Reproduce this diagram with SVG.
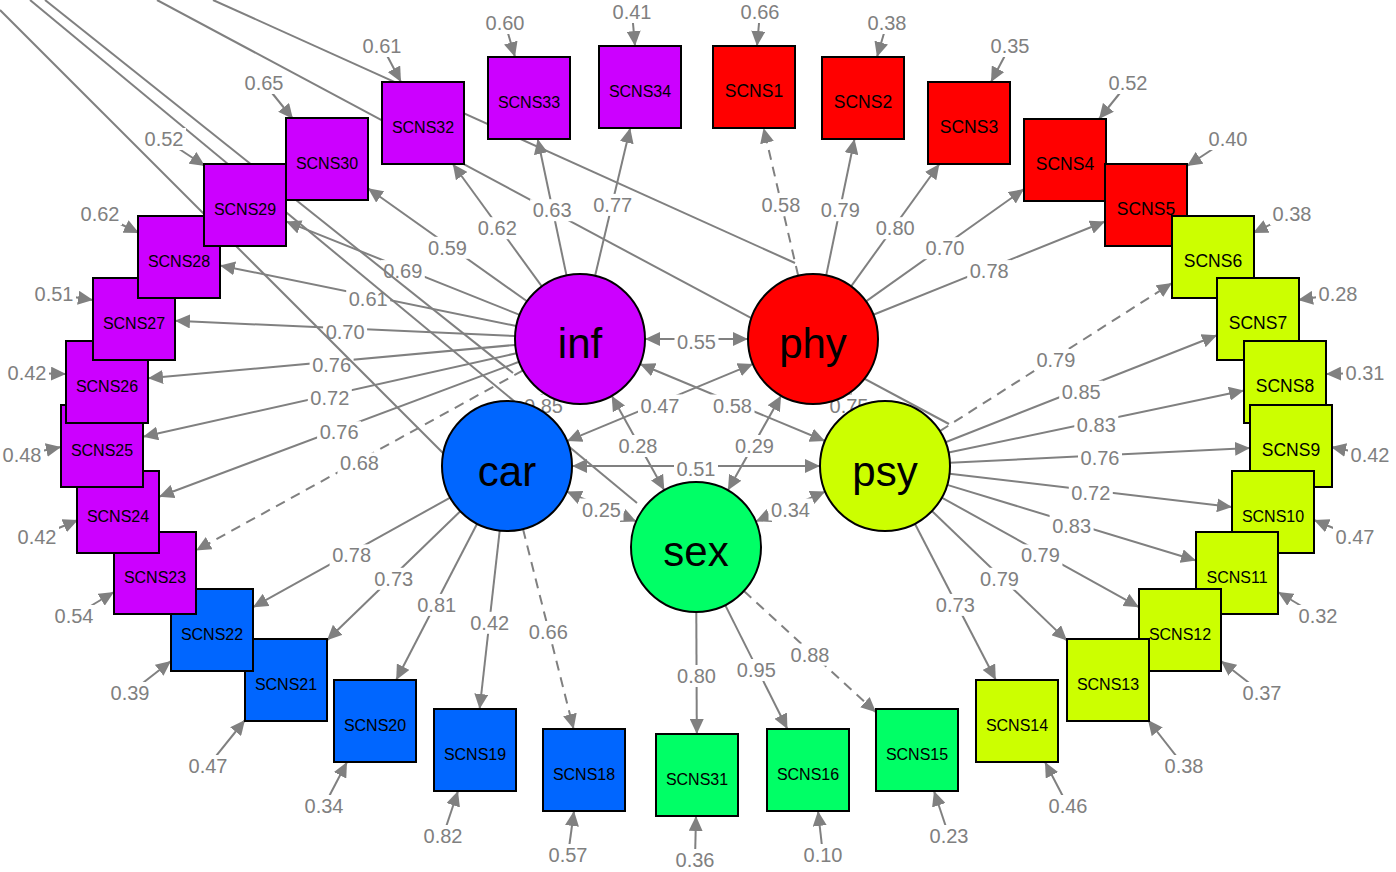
<svg xmlns="http://www.w3.org/2000/svg" width="1396" height="872" viewBox="0 0 1396 872">
<style>
.ln{stroke:#808080;stroke-width:2;fill:none}
.ld{stroke-dasharray:10 7}
.lb{fill:#ffffff}
.lt{font-family:"Liberation Sans",Arial,sans-serif;font-size:20px;fill:#808080;text-anchor:middle}
.bx{stroke:#000;stroke-width:2}
.bt{font-family:"Liberation Sans",Arial,sans-serif;font-size:16px;fill:#000;text-anchor:middle}
.b5{font-size:17.5px}
.lv{stroke:#000;stroke-width:2}
.lvt{font-family:"Liberation Sans",Arial,sans-serif;font-size:42px;fill:#000;text-anchor:middle}
.cI{fill:#CC00FF}.cP{fill:#FF0000}.cY{fill:#CCFF00}.cS{fill:#00FF66}.cC{fill:#0066FF}
</style>
<defs>
<marker id="ah" markerWidth="15" markerHeight="14" refX="15" refY="7" orient="auto-start-reverse" markerUnits="userSpaceOnUse"><path d="M0,0 L15,7 L0,14 z" fill="#808080"/></marker>
</defs>
<rect x="0" y="0" width="1396" height="872" fill="#ffffff"/>
<g id="connectors">
<line class="ln" x1="157" y1="0" x2="949" y2="424"/>
<line class="ln" x1="213" y1="0" x2="795" y2="263"/>
<g marker-end="url(#ah)">
<line class="ln" x1="595.1" y1="275.7" x2="630.2" y2="128"/>
<line class="ln" x1="566.5" y1="275.4" x2="537.7" y2="139"/>
<line class="ln" x1="541.8" y1="286.4" x2="452.8" y2="164"/>
<line class="ln" x1="527" y1="301.3" x2="368" y2="188.2"/>
<line class="ln" x1="519.7" y1="314.9" x2="286" y2="221.4"/>
<line class="ln" x1="516.3" y1="326" x2="220" y2="265.4"/>
<line class="ln" x1="515.1" y1="336.1" x2="175" y2="320.8"/>
<line class="ln" x1="515.2" y1="344.9" x2="148" y2="378.3"/>
<line class="ln" x1="516.6" y1="353.2" x2="143" y2="436.8"/>
<line class="ln" x1="519.1" y1="361.8" x2="159" y2="496.7"/>
<line class="ln ld" x1="523.1" y1="370.4" x2="196" y2="550.4"/>
<line class="ln ld" x1="798.2" y1="275.7" x2="763.6" y2="128"/>
<line class="ln" x1="826.2" y1="275.4" x2="854.5" y2="139"/>
<line class="ln" x1="851.1" y1="286.3" x2="939.4" y2="164"/>
<line class="ln" x1="866" y1="301.4" x2="1024" y2="189.1"/>
<line class="ln" x1="873.3" y1="314.7" x2="1105" y2="221.5"/>
<line class="ln ld" x1="939.8" y1="431.1" x2="1172" y2="283.1"/>
<line class="ln" x1="945.5" y1="442.2" x2="1217" y2="335.2"/>
<line class="ln" x1="948.6" y1="452.6" x2="1244" y2="390.6"/>
<line class="ln" x1="949.9" y1="462.8" x2="1250" y2="448"/>
<line class="ln" x1="949.6" y1="473.7" x2="1232" y2="507.1"/>
<line class="ln" x1="947.2" y1="484.9" x2="1196" y2="560.5"/>
<line class="ln" x1="941.8" y1="497.6" x2="1139" y2="607.2"/>
<line class="ln" x1="931.9" y1="511" x2="1067" y2="640.6"/>
<line class="ln" x1="914.9" y1="523.7" x2="995.8" y2="680"/>
<line class="ln" x1="696.3" y1="612" x2="696.8" y2="734"/>
<line class="ln" x1="725.2" y1="605.1" x2="787.4" y2="729"/>
<line class="ln ld" x1="743.9" y1="591" x2="876" y2="712.3"/>
<line class="ln" x1="450.2" y1="497.6" x2="253" y2="607.2"/>
<line class="ln" x1="460.3" y1="511.2" x2="327" y2="640.3"/>
<line class="ln" x1="477.1" y1="523.7" x2="396.2" y2="680"/>
<line class="ln" x1="499.7" y1="530.6" x2="479.6" y2="709"/>
<line class="ln ld" x1="523" y1="529" x2="573.6" y2="729"/>
</g>
<g>
<rect class="lb" x="590.7" y="193.9" width="44" height="22"/><text class="lt" x="612.7" y="211.9">0.77</text>
<rect class="lb" x="530.1" y="199.2" width="44" height="22"/><text class="lt" x="552.1" y="217.2">0.63</text>
<rect class="lb" x="475.3" y="217.2" width="44" height="22"/><text class="lt" x="497.3" y="235.2">0.62</text>
<rect class="lb" x="425.5" y="236.8" width="44" height="22"/><text class="lt" x="447.5" y="254.8">0.59</text>
<rect class="lb" x="380.8" y="260.1" width="44" height="22"/><text class="lt" x="402.8" y="278.1">0.69</text>
<rect class="lb" x="346.2" y="287.7" width="44" height="22"/><text class="lt" x="368.2" y="305.7">0.61</text>
<rect class="lb" x="323.1" y="320.5" width="44" height="22"/><text class="lt" x="345.1" y="338.5">0.70</text>
<rect class="lb" x="309.6" y="353.6" width="44" height="22"/><text class="lt" x="331.6" y="371.6">0.76</text>
<rect class="lb" x="307.8" y="387" width="44" height="22"/><text class="lt" x="329.8" y="405">0.72</text>
<rect class="lb" x="317.1" y="421.2" width="44" height="22"/><text class="lt" x="339.1" y="439.2">0.76</text>
<rect class="lb" x="337.5" y="452.4" width="44" height="22"/><text class="lt" x="359.5" y="470.4">0.68</text>
<rect class="lb" x="758.9" y="193.9" width="44" height="22"/><text class="lt" x="780.9" y="211.9">0.58</text>
<rect class="lb" x="818.3" y="199.2" width="44" height="22"/><text class="lt" x="840.3" y="217.2">0.79</text>
<rect class="lb" x="873.2" y="217.2" width="44" height="22"/><text class="lt" x="895.2" y="235.2">0.80</text>
<rect class="lb" x="923" y="237.2" width="44" height="22"/><text class="lt" x="945" y="255.2">0.70</text>
<rect class="lb" x="967.2" y="260.1" width="44" height="22"/><text class="lt" x="989.2" y="278.1">0.78</text>
<rect class="lb" x="1033.9" y="349.1" width="44" height="22"/><text class="lt" x="1055.9" y="367.1">0.79</text>
<rect class="lb" x="1059.2" y="380.7" width="44" height="22"/><text class="lt" x="1081.2" y="398.7">0.85</text>
<rect class="lb" x="1074.3" y="413.6" width="44" height="22"/><text class="lt" x="1096.3" y="431.6">0.83</text>
<rect class="lb" x="1078" y="447.4" width="44" height="22"/><text class="lt" x="1100" y="465.4">0.76</text>
<rect class="lb" x="1068.8" y="482.4" width="44" height="22"/><text class="lt" x="1090.8" y="500.4">0.72</text>
<rect class="lb" x="1049.6" y="514.7" width="44" height="22"/><text class="lt" x="1071.6" y="532.7">0.83</text>
<rect class="lb" x="1018.4" y="544.4" width="44" height="22"/><text class="lt" x="1040.4" y="562.4">0.79</text>
<rect class="lb" x="977.5" y="567.8" width="44" height="22"/><text class="lt" x="999.5" y="585.8">0.79</text>
<rect class="lb" x="933.3" y="593.9" width="44" height="22"/><text class="lt" x="955.3" y="611.9">0.73</text>
<rect class="lb" x="674.5" y="665" width="44" height="22"/><text class="lt" x="696.5" y="683">0.80</text>
<rect class="lb" x="734.3" y="659" width="44" height="22"/><text class="lt" x="756.3" y="677">0.95</text>
<rect class="lb" x="788" y="643.7" width="44" height="22"/><text class="lt" x="810" y="661.7">0.88</text>
<rect class="lb" x="329.6" y="544.4" width="44" height="22"/><text class="lt" x="351.6" y="562.4">0.78</text>
<rect class="lb" x="371.7" y="567.8" width="44" height="22"/><text class="lt" x="393.7" y="585.8">0.73</text>
<rect class="lb" x="414.7" y="593.9" width="44" height="22"/><text class="lt" x="436.7" y="611.9">0.81</text>
<rect class="lb" x="467.7" y="611.8" width="44" height="22"/><text class="lt" x="489.7" y="629.8">0.42</text>
<rect class="lb" x="526.3" y="621" width="44" height="22"/><text class="lt" x="548.3" y="639">0.66</text>
</g>
<line class="ln" x1="0" y1="10" x2="443" y2="453"/>
<line class="ln" x1="30" y1="0" x2="637" y2="503"/>
<line class="ln" x1="45" y1="0" x2="513" y2="373"/>
<g marker-start="url(#ah)" marker-end="url(#ah)">
<line class="ln" x1="645" y1="339" x2="748" y2="339"/>
<line class="ln" x1="572" y1="466" x2="820" y2="466"/>
<line class="ln" x1="640" y1="364" x2="825" y2="441"/>
<line class="ln" x1="753" y1="363.9" x2="567" y2="441.1"/>
<line class="ln" x1="611.7" y1="395.8" x2="664.3" y2="490.2"/>
<line class="ln" x1="781.1" y1="395.7" x2="727.9" y2="490.3"/>
<line class="ln" x1="566.7" y1="491.6" x2="636.3" y2="521.4"/>
<line class="ln" x1="825.3" y1="491.6" x2="755.7" y2="521.4"/>
<line class="ln" x1="547.6" y1="395.3" x2="539.4" y2="409.7"/>
<line class="ln" x1="845.1" y1="395.5" x2="852.9" y2="409.5"/>
</g>
<g>
<rect class="lb" x="674.5" y="331" width="44" height="22"/><text class="lt" x="696.5" y="349">0.55</text>
<rect class="lb" x="674" y="458" width="44" height="22"/><text class="lt" x="696" y="476">0.51</text>
<rect class="lb" x="710.5" y="394.5" width="44" height="22"/><text class="lt" x="732.5" y="412.5">0.58</text>
<rect class="lb" x="638" y="394.5" width="44" height="22"/><text class="lt" x="660" y="412.5">0.47</text>
<rect class="lb" x="616" y="435" width="44" height="22"/><text class="lt" x="638" y="453">0.28</text>
<rect class="lb" x="732.5" y="435" width="44" height="22"/><text class="lt" x="754.5" y="453">0.29</text>
<rect class="lb" x="579.5" y="498.5" width="44" height="22"/><text class="lt" x="601.5" y="516.5">0.25</text>
<rect class="lb" x="768.5" y="498.5" width="44" height="22"/><text class="lt" x="790.5" y="516.5">0.34</text>
<rect class="lb" x="521.5" y="394.5" width="44" height="22"/><text class="lt" x="543.5" y="412.5">0.85</text>
<rect class="lb" x="827" y="394.5" width="44" height="22"/><text class="lt" x="849" y="412.5">0.75</text>
</g>
<g marker-end="url(#ah)">
<line class="ln" x1="760" y1="12" x2="757" y2="46"/>
<line class="ln" x1="887" y1="23" x2="877" y2="57"/>
<line class="ln" x1="1010" y1="46" x2="991" y2="82"/>
<line class="ln" x1="1128" y1="83" x2="1099" y2="119"/>
<line class="ln" x1="1228" y1="139" x2="1187" y2="166"/>
<line class="ln" x1="1292" y1="214" x2="1253" y2="233"/>
<line class="ln" x1="1338" y1="294" x2="1298" y2="300"/>
<line class="ln" x1="1365" y1="373" x2="1326" y2="374"/>
<line class="ln" x1="1370" y1="455" x2="1331" y2="447"/>
<line class="ln" x1="1355" y1="537" x2="1314" y2="520"/>
<line class="ln" x1="1318" y1="616" x2="1278" y2="592"/>
<line class="ln" x1="1262" y1="693" x2="1221" y2="661"/>
<line class="ln" x1="1184" y1="766" x2="1148" y2="720"/>
<line class="ln" x1="1068" y1="806" x2="1045" y2="762"/>
<line class="ln" x1="949" y1="836" x2="934" y2="791"/>
<line class="ln" x1="823" y1="855" x2="818" y2="811"/>
<line class="ln" x1="695" y1="860" x2="696" y2="816"/>
<line class="ln" x1="568" y1="855" x2="574" y2="811"/>
<line class="ln" x1="443" y1="836" x2="458" y2="791"/>
<line class="ln" x1="324" y1="806" x2="347" y2="762"/>
<line class="ln" x1="208" y1="766" x2="245" y2="720"/>
<line class="ln" x1="130" y1="693" x2="171" y2="661"/>
<line class="ln" x1="74" y1="616" x2="114" y2="592"/>
<line class="ln" x1="37" y1="537" x2="78" y2="520"/>
<line class="ln" x1="22" y1="455" x2="61" y2="447"/>
<line class="ln" x1="27" y1="373" x2="66" y2="374"/>
<line class="ln" x1="54" y1="294" x2="93" y2="300"/>
<line class="ln" x1="100" y1="214" x2="139" y2="233"/>
<line class="ln" x1="164" y1="139" x2="205" y2="166"/>
<line class="ln" x1="264" y1="83" x2="293" y2="119"/>
<line class="ln" x1="382" y1="46" x2="401" y2="82"/>
<line class="ln" x1="505" y1="23" x2="515" y2="57"/>
<line class="ln" x1="632" y1="12" x2="635" y2="46"/>
</g>
<g>
<rect class="lb" x="738" y="1" width="44" height="22"/><text class="lt" x="760" y="19">0.66</text>
<rect class="lb" x="865" y="12" width="44" height="22"/><text class="lt" x="887" y="30">0.38</text>
<rect class="lb" x="988" y="35" width="44" height="22"/><text class="lt" x="1010" y="53">0.35</text>
<rect class="lb" x="1106" y="72" width="44" height="22"/><text class="lt" x="1128" y="90">0.52</text>
<rect class="lb" x="1206" y="128" width="44" height="22"/><text class="lt" x="1228" y="146">0.40</text>
<rect class="lb" x="1270" y="203" width="44" height="22"/><text class="lt" x="1292" y="221">0.38</text>
<rect class="lb" x="1316" y="283" width="44" height="22"/><text class="lt" x="1338" y="301">0.28</text>
<rect class="lb" x="1343" y="362" width="44" height="22"/><text class="lt" x="1365" y="380">0.31</text>
<rect class="lb" x="1348" y="444" width="44" height="22"/><text class="lt" x="1370" y="462">0.42</text>
<rect class="lb" x="1333" y="526" width="44" height="22"/><text class="lt" x="1355" y="544">0.47</text>
<rect class="lb" x="1296" y="605" width="44" height="22"/><text class="lt" x="1318" y="623">0.32</text>
<rect class="lb" x="1240" y="682" width="44" height="22"/><text class="lt" x="1262" y="700">0.37</text>
<rect class="lb" x="1162" y="755" width="44" height="22"/><text class="lt" x="1184" y="773">0.38</text>
<rect class="lb" x="1046" y="795" width="44" height="22"/><text class="lt" x="1068" y="813">0.46</text>
<rect class="lb" x="927" y="825" width="44" height="22"/><text class="lt" x="949" y="843">0.23</text>
<rect class="lb" x="801" y="844" width="44" height="22"/><text class="lt" x="823" y="862">0.10</text>
<rect class="lb" x="673" y="849" width="44" height="22"/><text class="lt" x="695" y="867">0.36</text>
<rect class="lb" x="546" y="844" width="44" height="22"/><text class="lt" x="568" y="862">0.57</text>
<rect class="lb" x="421" y="825" width="44" height="22"/><text class="lt" x="443" y="843">0.82</text>
<rect class="lb" x="302" y="795" width="44" height="22"/><text class="lt" x="324" y="813">0.34</text>
<rect class="lb" x="186" y="755" width="44" height="22"/><text class="lt" x="208" y="773">0.47</text>
<rect class="lb" x="108" y="682" width="44" height="22"/><text class="lt" x="130" y="700">0.39</text>
<rect class="lb" x="52" y="605" width="44" height="22"/><text class="lt" x="74" y="623">0.54</text>
<rect class="lb" x="15" y="526" width="44" height="22"/><text class="lt" x="37" y="544">0.42</text>
<rect class="lb" x="0" y="444" width="44" height="22"/><text class="lt" x="22" y="462">0.48</text>
<rect class="lb" x="5" y="362" width="44" height="22"/><text class="lt" x="27" y="380">0.42</text>
<rect class="lb" x="32" y="283" width="44" height="22"/><text class="lt" x="54" y="301">0.51</text>
<rect class="lb" x="78" y="203" width="44" height="22"/><text class="lt" x="100" y="221">0.62</text>
<rect class="lb" x="142" y="128" width="44" height="22"/><text class="lt" x="164" y="146">0.52</text>
<rect class="lb" x="242" y="72" width="44" height="22"/><text class="lt" x="264" y="90">0.65</text>
<rect class="lb" x="360" y="35" width="44" height="22"/><text class="lt" x="382" y="53">0.61</text>
<rect class="lb" x="483" y="12" width="44" height="22"/><text class="lt" x="505" y="30">0.60</text>
<rect class="lb" x="610" y="1" width="44" height="22"/><text class="lt" x="632" y="19">0.41</text>
</g>
</g>
<g id="nodes">
<g id="SCNS1"><rect class="bx cP" x="713" y="46" width="82" height="82"/><text class="bt b5" x="754" y="97">SCNS1</text></g>
<g id="SCNS2"><rect class="bx cP" x="822" y="57" width="82" height="82"/><text class="bt b5" x="863" y="108">SCNS2</text></g>
<g id="SCNS3"><rect class="bx cP" x="928" y="82" width="82" height="82"/><text class="bt b5" x="969" y="133">SCNS3</text></g>
<g id="SCNS4"><rect class="bx cP" x="1024" y="119" width="82" height="82"/><text class="bt b5" x="1065" y="170">SCNS4</text></g>
<g id="SCNS5"><rect class="bx cP" x="1105" y="164" width="82" height="82"/><text class="bt b5" x="1146" y="215">SCNS5</text></g>
<g id="SCNS6"><rect class="bx cY" x="1172" y="216" width="82" height="82"/><text class="bt b5" x="1213" y="267">SCNS6</text></g>
<g id="SCNS7"><rect class="bx cY" x="1217" y="278" width="82" height="82"/><text class="bt b5" x="1258" y="329">SCNS7</text></g>
<g id="SCNS8"><rect class="bx cY" x="1244" y="341" width="82" height="82"/><text class="bt b5" x="1285" y="392">SCNS8</text></g>
<g id="SCNS9"><rect class="bx cY" x="1250" y="405" width="82" height="82"/><text class="bt b5" x="1291" y="456">SCNS9</text></g>
<g id="SCNS10"><rect class="bx cY" x="1232" y="471" width="82" height="82"/><text class="bt" x="1273" y="522">SCNS10</text></g>
<g id="SCNS11"><rect class="bx cY" x="1196" y="532" width="82" height="82"/><text class="bt" x="1237" y="583">SCNS11</text></g>
<g id="SCNS12"><rect class="bx cY" x="1139" y="589" width="82" height="82"/><text class="bt" x="1180" y="640">SCNS12</text></g>
<g id="SCNS13"><rect class="bx cY" x="1067" y="639" width="82" height="82"/><text class="bt" x="1108" y="690">SCNS13</text></g>
<g id="SCNS14"><rect class="bx cY" x="976" y="680" width="82" height="82"/><text class="bt" x="1017" y="731">SCNS14</text></g>
<g id="SCNS15"><rect class="bx cS" x="876" y="709" width="82" height="82"/><text class="bt" x="917" y="760">SCNS15</text></g>
<g id="SCNS16"><rect class="bx cS" x="767" y="729" width="82" height="82"/><text class="bt" x="808" y="780">SCNS16</text></g>
<g id="SCNS18"><rect class="bx cC" x="543" y="729" width="82" height="82"/><text class="bt" x="584" y="780">SCNS18</text></g>
<g id="SCNS19"><rect class="bx cC" x="434" y="709" width="82" height="82"/><text class="bt" x="475" y="760">SCNS19</text></g>
<g id="SCNS20"><rect class="bx cC" x="334" y="680" width="82" height="82"/><text class="bt" x="375" y="731">SCNS20</text></g>
<g id="SCNS21"><rect class="bx cC" x="245" y="639" width="82" height="82"/><text class="bt" x="286" y="690">SCNS21</text></g>
<g id="SCNS22"><rect class="bx cC" x="171" y="589" width="82" height="82"/><text class="bt" x="212" y="640">SCNS22</text></g>
<g id="SCNS23"><rect class="bx cI" x="114" y="532" width="82" height="82"/><text class="bt" x="155" y="583">SCNS23</text></g>
<g id="SCNS24"><rect class="bx cI" x="77" y="471" width="82" height="82"/><text class="bt" x="118" y="522">SCNS24</text></g>
<g id="SCNS25"><rect class="bx cI" x="61" y="405" width="82" height="82"/><text class="bt" x="102" y="456">SCNS25</text></g>
<g id="SCNS26"><rect class="bx cI" x="66" y="341" width="82" height="82"/><text class="bt" x="107" y="392">SCNS26</text></g>
<g id="SCNS27"><rect class="bx cI" x="93" y="278" width="82" height="82"/><text class="bt" x="134" y="329">SCNS27</text></g>
<g id="SCNS28"><rect class="bx cI" x="138" y="216" width="82" height="82"/><text class="bt" x="179" y="267">SCNS28</text></g>
<g id="SCNS29"><rect class="bx cI" x="204" y="164" width="82" height="82"/><text class="bt" x="245" y="215">SCNS29</text></g>
<g id="SCNS30"><rect class="bx cI" x="286" y="118" width="82" height="82"/><text class="bt" x="327" y="169">SCNS30</text></g>
<g id="SCNS31"><rect class="bx cS" x="656" y="734" width="82" height="82"/><text class="bt" x="697" y="785">SCNS31</text></g>
<g id="SCNS32"><rect class="bx cI" x="382" y="82" width="82" height="82"/><text class="bt" x="423" y="133">SCNS32</text></g>
<g id="SCNS33"><rect class="bx cI" x="488" y="57" width="82" height="82"/><text class="bt" x="529" y="108">SCNS33</text></g>
<g id="SCNS34"><rect class="bx cI" x="599" y="46" width="82" height="82"/><text class="bt" x="640" y="97">SCNS34</text></g>
<g id="inf"><circle class="lv cI" cx="580" cy="339" r="65"/><text class="lvt" x="580" y="358">inf</text></g>
<g id="phy"><circle class="lv cP" cx="813" cy="339" r="65"/><text class="lvt" x="813" y="358">phy</text></g>
<g id="car"><circle class="lv cC" cx="507" cy="466" r="65"/><text class="lvt" x="507" y="486">car</text></g>
<g id="psy"><circle class="lv cY" cx="885" cy="466" r="65"/><text class="lvt" x="885" y="486">psy</text></g>
<g id="sex"><circle class="lv cS" cx="696" cy="547" r="65"/><text class="lvt" x="696" y="566">sex</text></g>
</g>
</svg>
